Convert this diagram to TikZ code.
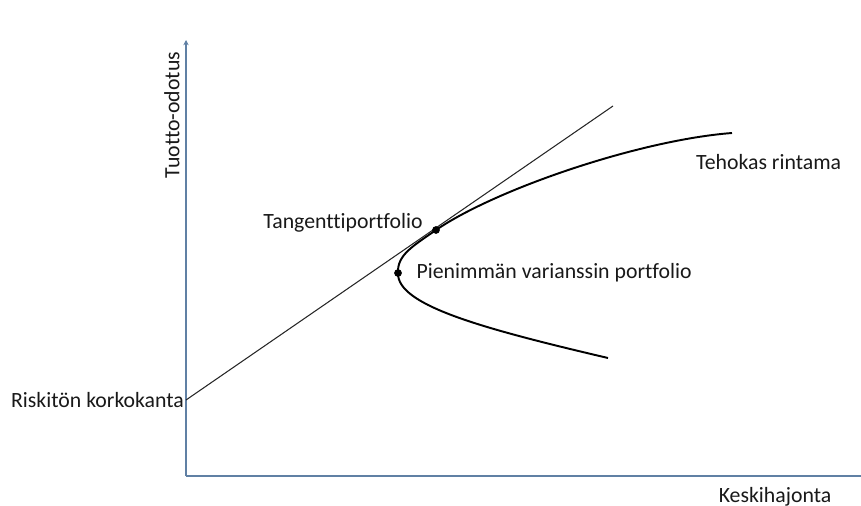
\documentclass[tikz,border=0pt]{standalone}
\usepackage{fontspec}
\setmainfont{Carlito}[Ligatures={NoCommon}]
\usetikzlibrary{positioning,arrows.meta}
\definecolor{axisblue}{RGB}{96, 128, 164}
\definecolor{textgray}{RGB}{25, 25, 25}

\tikzset{
  axis/.style={color=axisblue, line width=0.8pt},
  frontier/.style={color=black, line width=1.1pt},
  tangent/.style={color=black!85, line width=0.6pt},
  pt/.style={circle, fill=black, inner sep=0pt, minimum size=4.4pt},
  lbl/.style={text=textgray, inner sep=1pt, font=\fontsize{12.4}{14}\selectfont}
}

\begin{document}
\begin{tikzpicture}[x=0.02cm, y=-0.02cm]
            \useasboundingbox (0,0) rectangle (861,506);
            % Axes
            \coordinate (o)    at (186,476);
            \coordinate (ytop) at (186, 40);
            \coordinate (xend) at (861,476);
            \draw[axis, -{Stealth[length=3pt, width=3pt]}] (o) -- (ytop);
            \draw[axis] (o) -- (xend);
            \node[lbl, rotate=90] (ylab) at (172,115) {Tuotto-odotus};
            \node[lbl] (xlab) at (775,497) {Keskihajonta};
            % Capital market line
            \coordinate (rf)   at (186,400);
            \coordinate (tend) at (613,106);
            \draw[tangent] (rf) -- (tend);
            \node[lbl, left=0pt of rf] (rflab) {Riskitön korkokanta};
            % Efficient frontier
            \coordinate (flow) at (608,358);
            \coordinate (fend) at (732,133);
            \node[pt] (mvp) at (398,273) {};
            \node[pt] (tp)  at (436,230) {};
            \draw[frontier] (flow) .. controls (480,328) and (397,305) .. (mvp.center)
                                   .. controls (397,255) and (413,246) .. (tp.center)
                                   .. controls (496,189) and (640,140) .. (fend);
            % Labels
            \node[lbl, left=4pt of tp, yshift=4pt] (tplab) {Tangenttiportfolio};
            \node[lbl, right=7pt of mvp] (mvplab) {Pienimmän varianssin portfolio};
            \node[lbl, anchor=west] (frlab) at (694,162) {Tehokas rintama};
\end{tikzpicture}
\end{document}
